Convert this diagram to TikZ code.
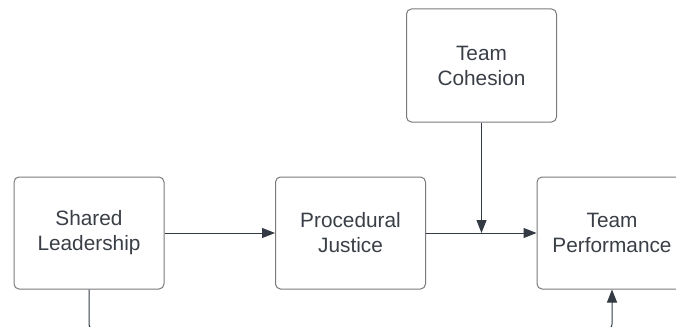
\documentclass[tikz,border=0pt]{standalone}
\usepackage{fontspec}
\setmainfont{Liberation Sans}
\usetikzlibrary{arrows.meta}
\definecolor{txt}{HTML}{3A3F47}
\definecolor{edge}{HTML}{7A7A7A}
\definecolor{arr}{HTML}{333A44}
\tikzset{
  box/.style={draw=edge, line width=1pt, rounded corners=5pt, minimum width=150pt,
    minimum height=112pt, align=center, text=txt, inner sep=0pt,
    font=\fontsize{20.8}{25}\selectfont},
  conn/.style={draw=arr, line width=1pt, -{Triangle[length=13pt,width=10pt]}},
  plain/.style={draw=arr, line width=1pt, rounded corners=6pt}
}
\begin{document}
\begin{tikzpicture}[x=1pt,y=-1pt]
\useasboundingbox (0,0) rectangle (676,326);
\clip (0,0) rectangle (676,326);
\fill[white] (0,0) rectangle (676,326);
\node[box] (sl) at (89,233) {Shared\\Leadership};
\node[box] (pj) at (350.5,233) {Procedural\\Justice};
\node[box, minimum height=113pt] (tc) at (481.5,65.5) {Team\\Cohesion};
\node[box] (tp) at (612,233) {Team\\Performance};
\coordinate (mid) at (tc.south |- pj.east);
\draw[conn] (sl.east) -- (pj.west);
\draw[conn] (pj.east) -- (tp.west);
\draw[conn] (tc.south) -- (mid);
\coordinate (c1) at (89,330);
\coordinate (c2) at (612,330);
\draw[plain] (sl.south) -- (c1) -- (c2) -- (612,300);
\draw[conn] (612,300) -- (tp.south);
\end{tikzpicture}
\end{document}
